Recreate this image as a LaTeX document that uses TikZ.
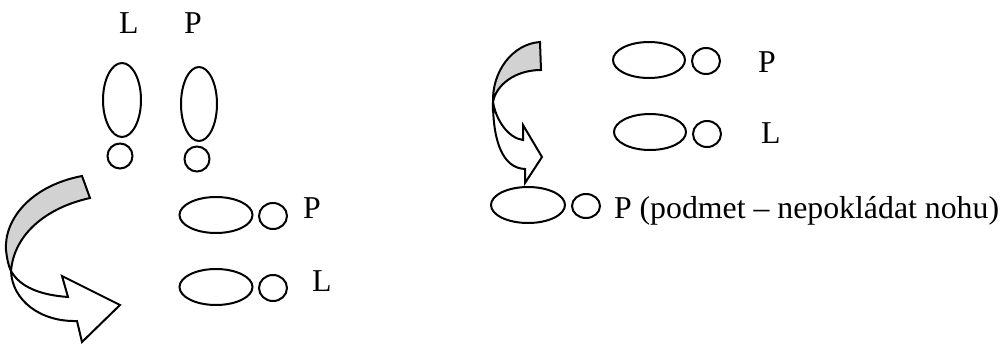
\documentclass[tikz,border=0pt]{standalone}
\usepackage{fontspec}
\setmainfont{Liberation Serif}
\begin{document}
\begin{tikzpicture}[x=0.5pt,y=-0.5pt,line width=1pt,
    every node/.style={inner sep=0pt,anchor=base west,font=\fontsize{15.9}{18}\selectfont},
    sole/.style={draw=black},
    ribbon/.style={draw=black,line join=miter}]
  \definecolor{backside}{HTML}{D2D2D2}
  \useasboundingbox (0,0) rectangle (1002,343);
  % Left column: the two feet standing, then laid down one after the other.
  \node (topL) at (118,33) {L};
  \node (topP) at (183,33) {P};
  \draw[sole] (122,100) ellipse [x radius=19,y radius=37];
  \draw[sole] (120,156) circle [radius=12.5];
  \draw[sole] (199,104) ellipse [x radius=18,y radius=37];
  \draw[sole] (197,159) circle [radius=12.5];
  \draw[sole] (216,215) ellipse [x radius=36.5,y radius=18];
  \draw[sole] (273,216) ellipse [x radius=14,y radius=13];
  \node (midP) at (302,218) {P};
  \draw[sole] (216,287) ellipse [x radius=36.5,y radius=18];
  \draw[sole] (273,288) ellipse [x radius=14,y radius=13];
  \node (midL) at (311,291) {L};
  % Turning arrow on the left: grey back of the ribbon, white front with the head.
  \filldraw[ribbon,fill=backside] (82,176) .. controls (30,186) and (4,220) .. (6,250)
    .. controls (7,258) and (8,265) .. (11,271)
    .. controls (14,235) and (45,208) .. (90,198) -- cycle;
  \filldraw[ribbon,fill=white] (11,271) .. controls (12,300) and (40,322) .. (77,321)
    -- (82,342) -- (120,305) -- (62,276) -- (68,297)
    .. controls (40,295) and (20,287) .. (11,271) -- cycle;
  % Right part.
  \draw[sole] (649,60) ellipse [x radius=36,y radius=18];
  \draw[sole] (706,61) ellipse [x radius=14,y radius=13];
  \node (rightP) at (757,72) {P};
  \draw[sole] (650,132) ellipse [x radius=36,y radius=18];
  \draw[sole] (707,134) ellipse [x radius=14,y radius=13];
  \node (rightL) at (760,143) {L};
  \draw[sole] (528,205) ellipse [x radius=37,y radius=18];
  \draw[sole] (586,206) ellipse [x radius=14,y radius=12];
  \node (subject) at (613,218) {P (podmet – nepokládat nohu)};
  % Turning arrow on the right.
  \filldraw[ribbon,fill=backside] (540,42) .. controls (512,44) and (492,72) .. (493,102)
    .. controls (496,85) and (515,70) .. (541,70) -- cycle;
  \filldraw[ribbon,fill=white] (493,102) .. controls (493,140) and (502,168) .. (525,169)
    -- (525,183) -- (542,157) -- (523,125) -- (523,140)
    .. controls (508,138) and (496,120) .. (493,102) -- cycle;
\end{tikzpicture}
\end{document}
